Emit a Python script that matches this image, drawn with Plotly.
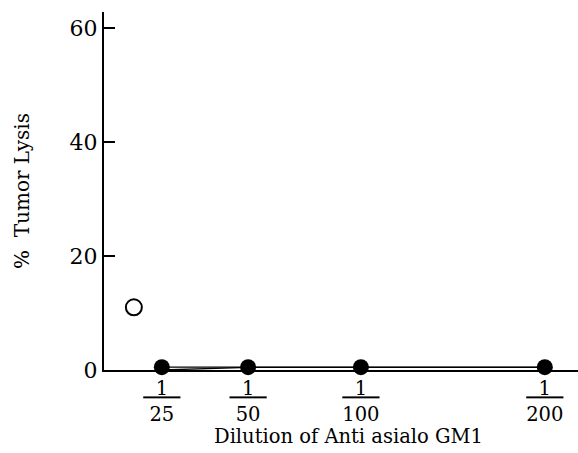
import plotly.graph_objects as go

# Data
dilutions = ["1/25", "1/50", "1/100", "1/200"]
x_vals = [1.22, 3.04, 5.42, 9.30]          # horizontal placement of each dilution
lysis_filled = [0.5, 0.5, 0.5, 0.5]        # % tumor lysis (filled circles)
lysis_line = [0.0, 0.45, 0.45, 0.45]       # second, nearly coincident trace
control_x = [0.63]
control_lysis = [11.0]                      # open circle (control)

y_ticks = [0, 20, 40, 60]

tick_text = []
for d in dilutions:
    num, den = d.split("/")
    pad = "\u00a0" * 2
    tick_text.append("<u>" + pad + num + pad + "</u><br>" + den)

font_family = "DejaVu Serif"

fig = go.Figure()
fig.add_trace(go.Scatter(x=x_vals, y=lysis_line, mode="lines",
                         line=dict(color="black", width=1.3), cliponaxis=False,
                         showlegend=False))
fig.add_trace(go.Scatter(x=x_vals, y=lysis_filled, mode="lines+markers",
                         line=dict(color="black", width=1.3),
                         marker=dict(symbol="circle", size=16, color="black"),
                         cliponaxis=False, showlegend=False))
fig.add_trace(go.Scatter(x=control_x, y=control_lysis, mode="markers",
                         marker=dict(symbol="circle-open", size=16, color="black",
                                     line=dict(width=2)),
                         cliponaxis=False, showlegend=False))

fig.update_layout(
    width=578, height=453,
    margin=dict(l=104, r=0, t=12, b=83),
    paper_bgcolor="white", plot_bgcolor="white",
    font=dict(family=font_family, color="black", size=18),
    xaxis=dict(range=[0, 10], showgrid=False, zeroline=False, showline=True,
               linecolor="black", linewidth=2,
               tickmode="array", tickvals=x_vals, ticktext=tick_text,
               ticks="", tickfont=dict(size=19.5, family=font_family)),
    yaxis=dict(range=[0, 62.8], showgrid=False, zeroline=False, showline=True,
               linecolor="black", linewidth=2,
               tickmode="array", tickvals=y_ticks, ticks="inside", ticklen=11,
               tickwidth=1.5, tickcolor="black",
               tickfont=dict(size=22, family=font_family),
               title=dict(text="%\u00a0\u00a0Tumor Lysis", standoff=35,
                          font=dict(size=20, family=font_family))),
    annotations=[dict(text="Dilution of Anti asialo GM1", xref="paper", yref="paper",
                      x=0.515, y=0, yshift=-66, xanchor="center", yanchor="middle",
                      showarrow=False, font=dict(size=19.5, family=font_family))],
)

fig.write_html("out.html", config={"displayModeBar": False},
               post_script="document.body.style.margin='0';")
